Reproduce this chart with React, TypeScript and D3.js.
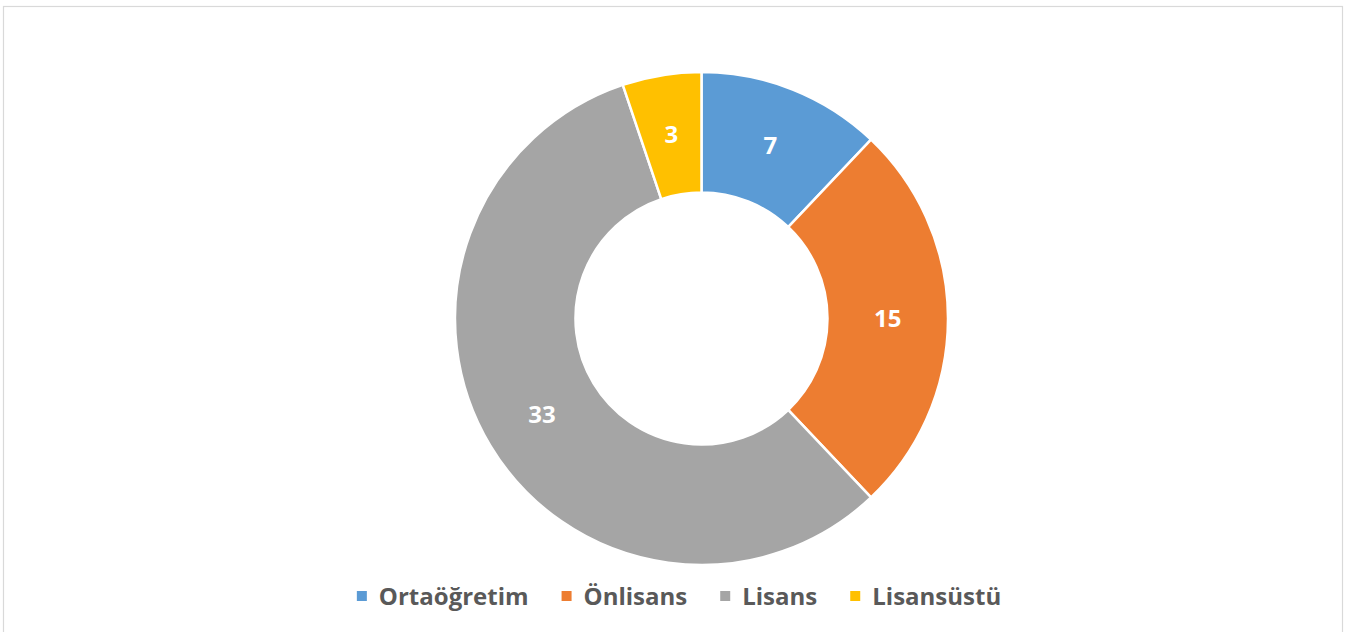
import React, { useEffect, useRef } from "react";
import * as d3 from "d3";

const categories = ["Ortaöğretim", "Önlisans", "Lisans", "Lisansüstü"];
const values = [7, 15, 33, 3];
const colors = ["#5B9BD5", "#ED7D31", "#A5A5A5", "#FFC000"];

const W = 1359;
const H = 632;
const FONT = "'Open Sans', 'Liberation Sans', sans-serif";

export default function App() {
  const ref = useRef<SVGSVGElement>(null);

  useEffect(() => {
    const svg = d3.select(ref.current);
    svg.selectAll("*").remove();

    svg
      .append("rect")
      .attr("x", 3.5)
      .attr("y", 6.5)
      .attr("width", 1339)
      .attr("height", 640)
      .attr("fill", "#fff")
      .attr("stroke", "#d9d9d9")
      .attr("stroke-width", 1.2);

    const cx = 701.5;
    const cy = 318.5;
    const outerR = 246.5;
    const innerR = 126;

    const data = categories.map((c, i) => ({ c, v: values[i], color: colors[i] }));
    const pie = d3
      .pie<any>()
      .value((d) => d.v)
      .sort(null);
    const arcs = pie(data);
    const arc = d3.arc<any>().innerRadius(innerR).outerRadius(outerR);
    const labelArc = d3
      .arc<any>()
      .innerRadius((innerR + outerR) / 2)
      .outerRadius((innerR + outerR) / 2);

    const g = svg.append("g").attr("transform", `translate(${cx},${cy})`);
    g.selectAll("path")
      .data(arcs)
      .enter()
      .append("path")
      .attr("d", arc as any)
      .attr("fill", (d: any) => d.data.color)
      .attr("stroke", "#fff")
      .attr("stroke-width", 2.5)
      .attr("stroke-linejoin", "round");

    g.selectAll("text.lbl")
      .data(arcs)
      .enter()
      .append("text")
      .attr("class", "lbl")
      .attr("transform", (d: any) => {
        const [x, y] = labelArc.centroid(d);
        return `translate(${x},${y})`;
      })
      .attr("text-anchor", "middle")
      .attr("dy", "0.36em")
      .attr("fill", "#fff")
      .attr("font-family", FONT)
      .attr("font-weight", "bold")
      .attr("font-size", 24)
      .text((d: any) => d.data.v);

    // legend
    const lg = svg.append("g");
    const items = lg
      .selectAll("g.item")
      .data(data)
      .enter()
      .append("g")
      .attr("class", "item");
    items
      .append("rect")
      .attr("width", 10)
      .attr("height", 10)
      .attr("fill", (d: any) => d.color);
    const texts = items
      .append("text")
      .attr("x", 22)
      .attr("y", 5)
      .attr("dy", "0.36em")
      .attr("fill", "#595959")
      .attr("font-family", FONT)
      .attr("font-weight", "bold")
      .attr("font-size", 24)
      .text((d: any) => d.c);

    const widths: number[] = [];
    texts.each(function () {
      widths.push((this as SVGTextElement).getComputedTextLength());
    });
    const gap = 33;
    const itemW = widths.map((w) => 22 + w);
    const total = d3.sum(itemW) + gap * (itemW.length - 1);
    let x = 679 - total / 2;
    const legendY = 591;
    items.attr("transform", (_d: any, i: number) => {
      const t = `translate(${x},${legendY})`;
      x += itemW[i] + gap;
      return t;
    });
  }, []);

  return (
    <svg
      ref={ref}
      width={W}
      height={H}
      style={{ position: "absolute", left: 0, top: 0, background: "#fff" }}
    />
  );
}
